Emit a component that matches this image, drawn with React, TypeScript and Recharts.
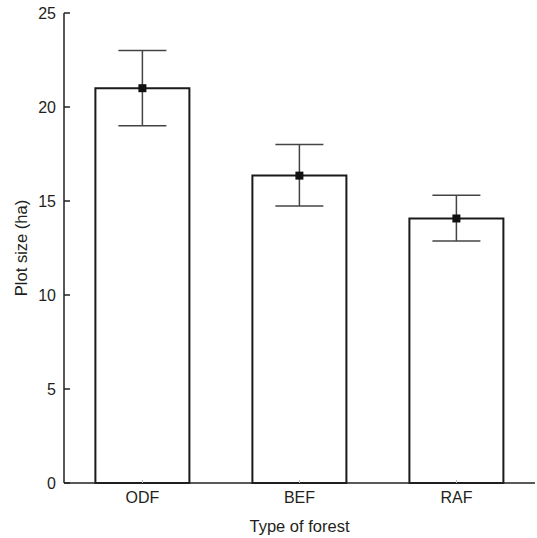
import React from 'react';
import { ComposedChart, Bar, XAxis, YAxis, ErrorBar, LabelList } from 'recharts';

const categories = ['ODF', 'BEF', 'RAF'];
const means = [21.0, 16.35, 14.07];
const lowers = [19.0, 14.73, 12.87];
const uppers = [23.0, 18.0, 15.3];
const yTicks = [0, 5, 10, 15, 20, 25];

const data = categories.map((c, i) => ({
  name: c,
  mean: means[i],
  err: [means[i] - lowers[i], uppers[i] - means[i]],
}));

const FONT = '"Liberation Sans", Arial, sans-serif';
const TEXT = '#231f20';

const YTick = (props: any) => {
  const { x, y, payload } = props;
  return (
    <g>
      <line x1={x + 8} x2={x + 14} y1={y} y2={y} stroke="#222" strokeWidth={1.5} />
      <text x={x} y={y} dy="0.355em" textAnchor="end" fontFamily={FONT} fontSize={16} fill={TEXT}>
        {payload.value}
      </text>
    </g>
  );
};

const XTick = (props: any) => {
  const { x, y, payload } = props;
  return (
    <g>
      <line x1={x} x2={x} y1={y - 9} y2={y - 12} stroke="#bbb" strokeWidth={1} />
      <text x={x} y={y} dy="0.71em" textAnchor="middle" fontFamily={FONT} fontSize={16} fill={TEXT}>
        {payload.value}
      </text>
    </g>
  );
};

const Marker = (props: any) => {
  const { x, y, width } = props;
  const cx = Number(x) + Number(width) / 2;
  const cy = Number(y);
  return <rect x={cx - 4} y={cy - 4} width={8} height={8} fill="#111" />;
};

export default function App() {
  return (
    <div style={{ position: 'absolute', left: 0, top: 0, background: '#fff' }}>
      <ComposedChart
        width={537}
        height={538}
        data={data}
        margin={{ top: 13, right: 2, left: 0, bottom: 0 }}
        barCategoryGap="20%"
      >
        <XAxis
          dataKey="name"
          height={55}
          axisLine={{ stroke: '#222', strokeWidth: 1.5 }}
          tickLine={false}
          tick={<XTick />}
          tickMargin={3}
          label={{
            value: 'Type of forest',
            position: 'insideBottom',
            offset: 6,
            style: { fontFamily: FONT, fontSize: 16.5, fill: TEXT },
          }}
        />
        <YAxis
          width={64}
          domain={[0, 25]}
          ticks={yTicks}
          axisLine={{ stroke: '#222', strokeWidth: 1.5 }}
          tickLine={false}
          tick={<YTick />}
          label={{
            value: 'Plot size (ha)',
            angle: -90,
            position: 'insideLeft',
            offset: 21,
            style: { fontFamily: FONT, fontSize: 16.5, fill: TEXT, textAnchor: 'middle' },
          }}
        />
        <Bar dataKey="mean" fill="#fff" stroke="#1a1a1a" strokeWidth={2} isAnimationActive={false}>
          <ErrorBar dataKey="err" width={24} stroke="#444" strokeWidth={1.5} direction="y" />
          <LabelList dataKey="mean" content={<Marker />} />
        </Bar>
      </ComposedChart>
    </div>
  );
}
